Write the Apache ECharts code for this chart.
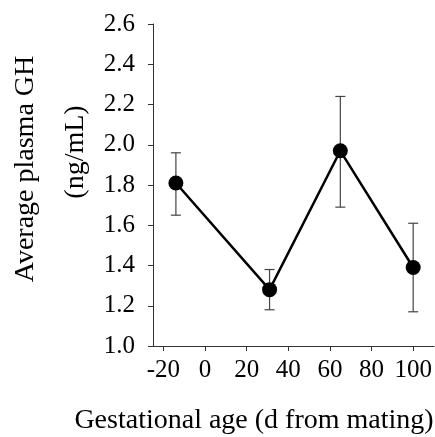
<!DOCTYPE html>
<html>
<head>
<meta charset="utf-8">
<script src="https://cdn.jsdelivr.net/npm/echarts@6/dist/echarts.min.js"></script>
<style>html,body{margin:0;padding:0;background:#fff;}#c{width:435px;height:437px;}</style>
</head>
<body>
<div id="c"></div>
<script>
var days = [-14, 31, 65, 100];
var meanGH = [1.81, 1.28, 1.97, 1.39];
var upperGH = [1.96, 1.38, 2.24, 1.61];
var lowerGH = [1.65, 1.18, 1.69, 1.17];
var xTicks = [-20, 0, 20, 40, 60, 80, 100];
var yTitleLines = ['Average plasma GH', '(ng/mL)'];
var xTitle = 'Gestational age (d from mating)';

var FONT = '"Liberation Serif", "Times New Roman", serif';
var chart = echarts.init(document.getElementById('c'), null, {renderer: 'canvas'});

var lineData = days.map(function (d, i) { return [d, meanGH[i]]; });
var errData = days.map(function (d, i) { return [d, lowerGH[i], upperGH[i]]; });

var option = {
  animation: false,
  backgroundColor: '#ffffff',
  grid: {left: 153, right: 1, top: 24, bottom: 91, containLabel: false},
  xAxis: {
    type: 'value', min: -25, max: 110,
    splitLine: {show: false},
    axisLine: {show: true, onZero: false, lineStyle: {color: '#333', width: 1}},
    axisTick: {show: true, inside: false, length: 5, customValues: xTicks, lineStyle: {color: '#333'}},
    axisLabel: {customValues: xTicks, fontFamily: FONT, fontSize: 25, color: '#000', margin: 12,
      formatter: function (v) { return String(v); }}
  },
  yAxis: {
    type: 'value', min: 1.0, max: 2.6, interval: 0.2,
    splitLine: {show: false},
    axisLine: {show: true, onZero: false, lineStyle: {color: '#333', width: 1}},
    axisTick: {show: true, inside: false, length: 5, lineStyle: {color: '#333'}},
    axisLabel: {fontFamily: FONT, fontSize: 25, color: '#000', margin: 18,
      formatter: function (v) { return v.toFixed(1); }}
  },
  graphic: [
    {type: 'text', x: 26, y: 169, rotation: Math.PI / 2,
      style: {text: yTitleLines[0], font: '28px ' + FONT, fill: '#000', align: 'center', verticalAlign: 'middle'}},
    {type: 'text', x: 76, y: 152, rotation: Math.PI / 2,
      style: {text: yTitleLines[1], font: '28px ' + FONT, fill: '#000', align: 'center', verticalAlign: 'middle'}},
    {type: 'text', x: 254, y: 421,
      style: {text: xTitle, font: '28px ' + FONT, fill: '#000', align: 'center', verticalAlign: 'middle'}}
  ],
  series: [
    {
      type: 'custom',
      data: errData,
      z: 1,
      renderItem: function (params, api) {
        var x = api.value(0);
        var lo = api.coord([x, api.value(1)]);
        var hi = api.coord([x, api.value(2)]);
        var cap = 5;
        var st = {stroke: '#444', lineWidth: 1.2};
        return {type: 'group', children: [
          {type: 'line', shape: {x1: lo[0], y1: lo[1], x2: hi[0], y2: hi[1]}, style: st},
          {type: 'line', shape: {x1: hi[0] - cap, y1: hi[1], x2: hi[0] + cap, y2: hi[1]}, style: st},
          {type: 'line', shape: {x1: lo[0] - cap, y1: lo[1], x2: lo[0] + cap, y2: lo[1]}, style: st}
        ]};
      }
    },
    {
      type: 'line',
      data: lineData,
      z: 3,
      symbol: 'circle',
      symbolSize: 15,
      lineStyle: {color: '#000', width: 2.5},
      itemStyle: {color: '#000'}
    }
  ]
};
chart.setOption(option);
</script>
</body>
</html>
